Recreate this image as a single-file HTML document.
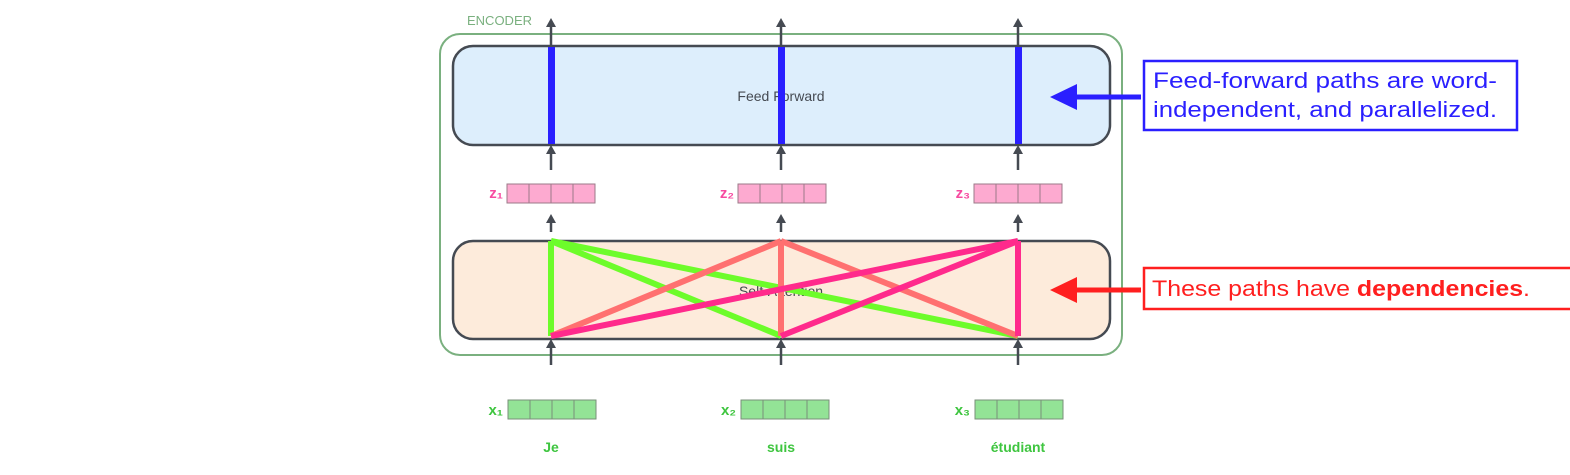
<!DOCTYPE html>
<html><head><meta charset="utf-8"><style>
body{margin:0;background:#fff;width:1570px;height:470px;overflow:hidden}
svg text{font-family:"Liberation Sans",sans-serif}
</style></head><body>
<svg width="1570" height="470">
<rect x="440" y="34" width="682" height="321" rx="20" fill="none" stroke="#7ab07f" stroke-width="2"/>
<text x="467" y="25" font-size="13" fill="#7ab07f">ENCODER</text>
<rect x="453" y="46" width="657" height="99" rx="20" fill="#ddeefc" stroke="#454a52" stroke-width="2.5"/>
<text x="781" y="101" font-size="14" fill="#454a52" text-anchor="middle">Feed Forward</text>
<rect x="453" y="241" width="657" height="98" rx="20" fill="#fdebdb" stroke="#454a52" stroke-width="2.5"/>
<text x="781" y="296" font-size="14" fill="#454a52" text-anchor="middle">Self-Attention</text>
<g id="cols"></g>
<g stroke="#6dfc2a" stroke-width="6" fill="none">
<line x1="551" y1="241" x2="551" y2="336"/><line x1="551" y1="241" x2="781" y2="336"/><line x1="551" y1="241" x2="1018" y2="336"/></g>
<g stroke="#ff7070" stroke-width="6" fill="none">
<line x1="781" y1="241" x2="551" y2="336"/><line x1="781" y1="241" x2="781" y2="336"/><line x1="781" y1="241" x2="1018" y2="336"/></g>
<g stroke="#ff2a8c" stroke-width="6" fill="none">
<line x1="1018" y1="241" x2="551" y2="336"/><line x1="1018" y1="241" x2="781" y2="336"/><line x1="1018" y1="241" x2="1018" y2="336"/></g>
<rect x="1144" y="61" width="373" height="69" fill="#fff" stroke="#2a1fff" stroke-width="2.5"/>
<text x="1153" y="88" font-size="22" fill="#2a1fff" textLength="344" lengthAdjust="spacingAndGlyphs">Feed-forward paths are word-</text>
<text x="1153" y="117" font-size="22" fill="#2a1fff" textLength="344" lengthAdjust="spacingAndGlyphs">independent, and parallelized.</text>
<line x1="1141" y1="97" x2="1070" y2="97" stroke="#2a1fff" stroke-width="5"/>
<polygon points="1050,97 1077,84 1077,110" fill="#2a1fff"/>
<rect x="1144" y="268" width="430" height="41" fill="#fff" stroke="#ff1f1f" stroke-width="2.5"/>
<text x="1152" y="296" font-size="22" fill="#ff1f1f" textLength="378" lengthAdjust="spacingAndGlyphs">These paths have <tspan font-weight="bold">dependencies</tspan>.</text>
<line x1="1141" y1="290" x2="1070" y2="290" stroke="#ff1f1f" stroke-width="5"/>
<polygon points="1050,290 1077,277 1077,303" fill="#ff1f1f"/>
</svg>
<script>
const cols=[551,781,1018];
const words=["Je","suis","étudiant"];
const zx=[507,738,974], xx=[508,741,975];
const g=document.getElementById('cols');
const NS='http://www.w3.org/2000/svg';
function mk(t,a){const e=document.createElementNS(NS,t);for(const k in a)e.setAttribute(k,a[k]);g.appendChild(e);return e;}
function arrow(x,y1,y2,n){
 const l=mk('line',{x1:x,y1:y1,x2:x,y2:y2+6,stroke:'#454a52','stroke-width':2.5});
 
 
 const p=mk('polygon',{points:`${x},${y2} ${x-5},${y2+9} ${x+5},${y2+9}`,fill:'#454a52'});
 
 
}
function vec(x0,y,fill,stroke,n){
 for(let i=0;i<4;i++){const r=mk('rect',{x:x0+i*22,y:y,width:22,height:19,fill:fill,stroke:stroke,'stroke-width':1});
 
 }
}
cols.forEach((c,i)=>{
 arrow(c,45,18,'output-arrow');
 arrow(c,170,145,'ff-input-arrow');
 arrow(c,232,214,'z-arrow');
 arrow(c,365,339,'x-arrow');
 const b=mk('rect',{x:c-3,y:47,width:7,height:97,fill:'#2a1fff'});
 
 
 vec(zx[i],184,'#fdaad0','#9b7a88','z-vector');
 vec(xx[i],400,'#93e396','#7a8f7a','x-vector');
 const zl=mk('text',{x:zx[i]-4,y:198,'font-size':15,'font-weight':'bold',fill:'#f74aa0','text-anchor':'end'});
 zl.textContent='z'+'₁₂₃'[i];
 
 
 const xl=mk('text',{x:xx[i]-5,y:415,'font-size':15,'font-weight':'bold',fill:'#3ec53f','text-anchor':'end'});
 xl.textContent='x'+'₁₂₃'[i];
 
 
 const w=mk('text',{x:c,y:452,'font-size':14,'font-weight':'bold',fill:'#3ec53f','text-anchor':'middle'});
 w.textContent=words[i];
 
 
});
</script>
</body></html>
